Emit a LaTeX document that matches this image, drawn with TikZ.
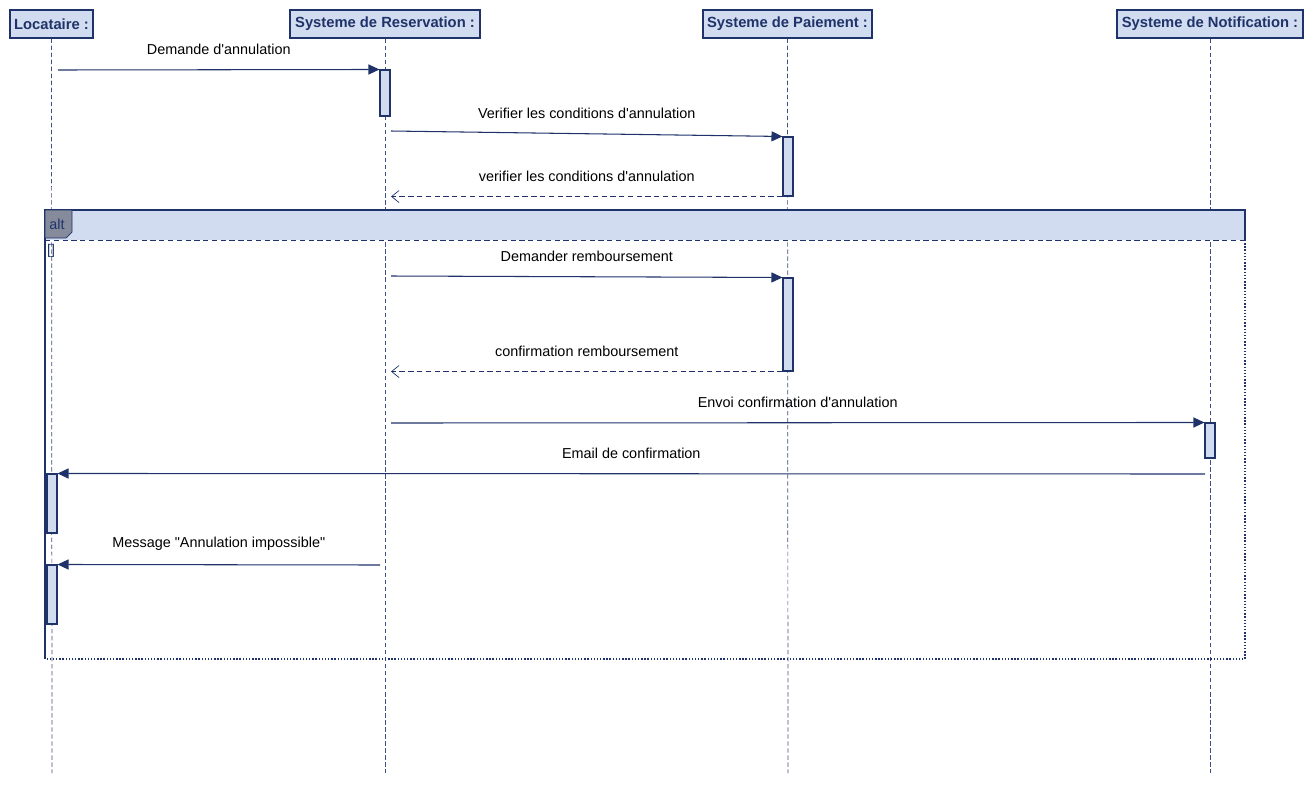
\documentclass[tikz,border=0pt]{standalone}
\usepackage{fontspec}
\setmainfont{Liberation Sans}[Ligatures=TeXOff]
\usetikzlibrary{arrows.meta, positioning}
\definecolor{umlline}{HTML}{1F3269}
\definecolor{umlfill}{HTML}{D1DCF0}
\definecolor{tabfill}{HTML}{868B9B}
\definecolor{lifegray}{HTML}{3F4F7F}

\begin{document}
\begin{tikzpicture}[
  x=0.02cm, y=-0.02cm,
  head/.style={rectangle, draw=umlline, fill=umlfill, line width=0.6pt, minimum height=0.56cm, inner sep=2pt, font=\fontsize{8.4}{10}\selectfont\bfseries, text=umlline},
  act/.style={rectangle, draw=umlline, fill=umlfill, line width=0.6pt, minimum width=0.2cm, inner sep=0pt},
  life/.style={lifegray, dash pattern=on 2.5pt off 1.5pt, thin},
  msg/.style={-{Triangle[length=2.2mm, width=2mm]}, umlline, semithick},
  ret/.style={-{Straight Barb[length=1.5mm, width=2.4mm]}, umlline, densely dashed, thin},
  lbl/.style={font=\fontsize{8.2}{10}\selectfont, text=black, inner sep=0pt}
]
\useasboundingbox (0,0) rectangle (1313,785);

% participants
\node[head, minimum width=1.66cm] (loc) at (51.5,24) {Locataire :};
\node[head, minimum width=3.8cm] (res) at (385,24) {Systeme de Reservation :};
\node[head, minimum width=3.38cm] (pay) at (787.5,24) {Systeme de Paiement :};
\node[head, minimum width=3.72cm] (notif) at (1210,24) {Systeme de Notification :};

% lifelines
\coordinate (locend) at (52,773);
\coordinate (resend) at (385,773);
\coordinate (payend) at (788,773);
\coordinate (notifend) at (1210,773);
\draw[life] (loc.south) -- (locend);
\draw[life] (res.south) -- (resend);
\draw[life] (pay.south) -- (payend);
\draw[life] (notif.south) -- (notifend);

% alt frame
\fill[umlfill] (45,210) rectangle (1245,240);
\draw[umlline, thick] (45,240) -- (45,210) -- (1245,210) -- (1245,240);
\draw[umlline, densely dashed] (45,240) -- (1245,240);
\draw[umlline, thick] (45,240) -- (45,659);
\draw[umlline, thick, densely dotted] (1245,240) -- (1245,659) -- (45,659);
\draw[umlline, fill=tabfill] (45,210) -- (72,210) -- (72,232) -- (66,238) -- (45,238) -- cycle;
\node[lbl, text=umlline] (alttag) at (57,224) {alt};
\node[font=\fontsize{8}{9}\selectfont, text=umlline, inner sep=0pt] (guard) at (51,251) {[]};

% activations
\node[act, minimum height=0.92cm] (res1) at (385,93) {};
\node[act, minimum height=1.18cm] (pay1) at (788,166.5) {};
\node[act, minimum height=1.86cm] (pay2) at (788,324.5) {};
\node[act, minimum height=0.7cm] (notif1) at (1210,440.5) {};
\node[act, minimum height=1.18cm] (loc1) at (52,503.5) {};
\node[act, minimum height=1.18cm] (loc2) at (52,594.5) {};

% messages
\coordinate (m1) at (58,70);
\coordinate (m2) at (391,131);
\coordinate (m4) at (391,276);
\coordinate (m6) at (391,423);
\coordinate (m7) at (1205,474);
\coordinate (m8) at (380,565);
\draw[msg] (m1) -- (res1.north west) node[lbl, midway, yshift=0.41cm] {Demande d'annulation};
\draw[msg] (m2) -- (pay1.north west) node[lbl, midway, yshift=0.41cm] {Verifier les conditions d'annulation};
\draw[ret] (pay1.south west) -- (pay1.south west -| m2) node[lbl, midway, yshift=0.41cm] {verifier les conditions d'annulation};
\draw[msg] (m4) -- (pay2.north west) node[lbl, midway, yshift=0.41cm] {Demander remboursement};
\draw[ret] (pay2.south west) -- (pay2.south west -| m4) node[lbl, midway, yshift=0.41cm] {confirmation remboursement};
\draw[msg] (m6) -- (notif1.north west) node[lbl, midway, yshift=0.41cm] {Envoi confirmation d'annulation};
\draw[msg] (m7) -- (loc1.north east) node[lbl, midway, yshift=0.41cm] {Email de confirmation};
\draw[msg] (m8) -- (loc2.north east) node[lbl, midway, yshift=0.41cm] {Message "Annulation impossible"};
\end{tikzpicture}
\end{document}
